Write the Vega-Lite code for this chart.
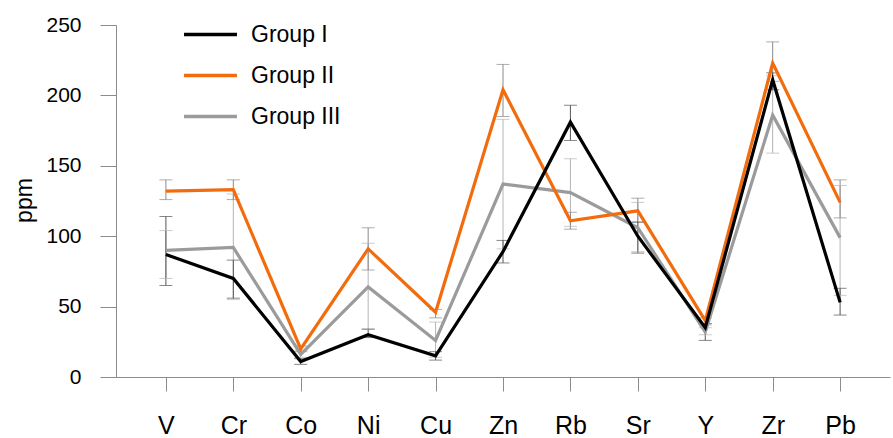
{
  "$schema": "https://vega.github.io/schema/vega-lite/v6.json",
  "width": 774,
  "height": 352,
  "autosize": {"type": "none"},
  "padding": {"left": 116, "top": 25, "right": 3, "bottom": 61},
  "config": {"view": {"stroke": null}, "font": "Liberation Sans"},
  "data": {
    "values": [
      {"element": "V", "group": "Group III", "value": 90, "lo": 70, "hi": 104},
      {"element": "Cr", "group": "Group III", "value": 92, "lo": 55, "hi": 130},
      {"element": "Co", "group": "Group III", "value": 16, "lo": 14, "hi": 19},
      {"element": "Ni", "group": "Group III", "value": 64, "lo": 34, "hi": 95},
      {"element": "Cu", "group": "Group III", "value": 26, "lo": 14, "hi": 39},
      {"element": "Zn", "group": "Group III", "value": 137, "lo": 91, "hi": 183},
      {"element": "Rb", "group": "Group III", "value": 131, "lo": 107, "hi": 155},
      {"element": "Sr", "group": "Group III", "value": 106, "lo": 89, "hi": 124},
      {"element": "Y", "group": "Group III", "value": 32, "lo": 30, "hi": 35},
      {"element": "Zr", "group": "Group III", "value": 186, "lo": 159, "hi": 214},
      {"element": "Pb", "group": "Group III", "value": 99, "lo": 58, "hi": 136},
      {"element": "V", "group": "Group II", "value": 132, "lo": 126, "hi": 140},
      {"element": "Cr", "group": "Group II", "value": 133, "lo": 126, "hi": 140},
      {"element": "Co", "group": "Group II", "value": 20, "lo": 18, "hi": 22},
      {"element": "Ni", "group": "Group II", "value": 91, "lo": 76, "hi": 106},
      {"element": "Cu", "group": "Group II", "value": 46, "lo": 42, "hi": 48},
      {"element": "Zn", "group": "Group II", "value": 204, "lo": 185, "hi": 222},
      {"element": "Rb", "group": "Group II", "value": 111, "lo": 105, "hi": 117},
      {"element": "Sr", "group": "Group II", "value": 118, "lo": 110, "hi": 127},
      {"element": "Y", "group": "Group II", "value": 40, "lo": 37, "hi": 42},
      {"element": "Zr", "group": "Group II", "value": 223, "lo": 210, "hi": 238},
      {"element": "Pb", "group": "Group II", "value": 124, "lo": 113, "hi": 140},
      {"element": "V", "group": "Group I", "value": 87, "lo": 65, "hi": 114},
      {"element": "Cr", "group": "Group I", "value": 70, "lo": 56, "hi": 83},
      {"element": "Co", "group": "Group I", "value": 11, "lo": 9, "hi": 13},
      {"element": "Ni", "group": "Group I", "value": 30, "lo": 28, "hi": 34},
      {"element": "Cu", "group": "Group I", "value": 15, "lo": 12, "hi": 18},
      {"element": "Zn", "group": "Group I", "value": 89, "lo": 81, "hi": 97},
      {"element": "Rb", "group": "Group I", "value": 181, "lo": 168, "hi": 193},
      {"element": "Sr", "group": "Group I", "value": 100, "lo": 88, "hi": 110},
      {"element": "Y", "group": "Group I", "value": 35, "lo": 26, "hi": 38},
      {"element": "Zr", "group": "Group I", "value": 211, "lo": 204, "hi": 216},
      {"element": "Pb", "group": "Group I", "value": 53, "lo": 44, "hi": 63}
    ]
  },
  "encoding": {
    "x": {
      "field": "element",
      "type": "nominal",
      "sort": ["V", "Cr", "Co", "Ni", "Cu", "Zn", "Rb", "Sr", "Y", "Zr", "Pb"],
      "scale": {"type": "point", "padding": 0.74},
      "axis": {
        "title": null,
        "labelAngle": 0,
        "labelFontSize": 25,
        "labelColor": "#000000",
        "labelPadding": 22,
        "tickSize": 14,
        "tickColor": "#8c8c8c",
        "domainColor": "#8c8c8c",
        "grid": false
      }
    }
  },
  "layer": [
    {
      "mark": {"type": "rule", "strokeWidth": 1},
      "encoding": {
        "y": {
          "field": "lo",
          "type": "quantitative",
          "scale": {"domain": [0, 250], "nice": false},
          "axis": {
            "title": "ppm",
            "titleFontSize": 23,
            "titleFontWeight": "normal",
            "titleColor": "#000000",
            "titleAngle": -90,
            "titleX": -92,
            "titleY": 175,
            "titleAlign": "center",
            "titleBaseline": "middle",
            "values": [0, 25, 50, 75, 100, 125, 150, 175, 200, 225, 250],
            "labelExpr": "datum.value % 50 === 0 ? datum.label : ''",
            "labelFontSize": 21,
            "labelColor": "#000000",
            "labelPadding": 19,
            "tickSize": {"condition": {"test": "datum.value % 50 === 0", "value": 16}, "value": 6},
            "tickColor": "#8c8c8c",
            "domainColor": "#8c8c8c",
            "grid": false
          }
        },
        "y2": {"field": "hi"},
        "stroke": {
          "condition": [
            {"test": "datum.group === 'Group I'", "value": "#555555"},
            {"test": "datum.group === 'Group II'", "value": "#8a8a8a"}
          ],
          "value": "#b5b5b5"
        }
      }
    },
    {
      "mark": {"type": "tick", "size": 13, "thickness": 1},
      "encoding": {
        "y": {"field": "lo", "type": "quantitative"},
        "fill": {
          "condition": [
            {"test": "datum.group === 'Group I'", "value": "#555555"},
            {"test": "datum.group === 'Group II'", "value": "#8a8a8a"}
          ],
          "value": "#b5b5b5"
        }
      }
    },
    {
      "mark": {"type": "tick", "size": 13, "thickness": 1},
      "encoding": {
        "y": {"field": "hi", "type": "quantitative"},
        "fill": {
          "condition": [
            {"test": "datum.group === 'Group I'", "value": "#555555"},
            {"test": "datum.group === 'Group II'", "value": "#8a8a8a"}
          ],
          "value": "#b5b5b5"
        }
      }
    },
    {
      "mark": {"type": "line", "strokeWidth": 3.2},
      "encoding": {
        "y": {"field": "value", "type": "quantitative"},
        "color": {
          "field": "group",
          "type": "nominal",
          "scale": {"domain": ["Group I", "Group II", "Group III"], "range": ["#000000", "#f26c0d", "#9b9b9b"]},
          "legend": {
            "title": null,
            "orient": "none",
            "legendX": 66,
            "legendY": -19,
            "symbolType": "stroke",
            "symbolSize": 2800,
            "symbolStrokeWidth": 3.5,
            "labelFontSize": 23,
            "labelColor": "#000000",
            "labelOffset": 12,
            "rowPadding": -16
          }
        }
      }
    }
  ]
}
